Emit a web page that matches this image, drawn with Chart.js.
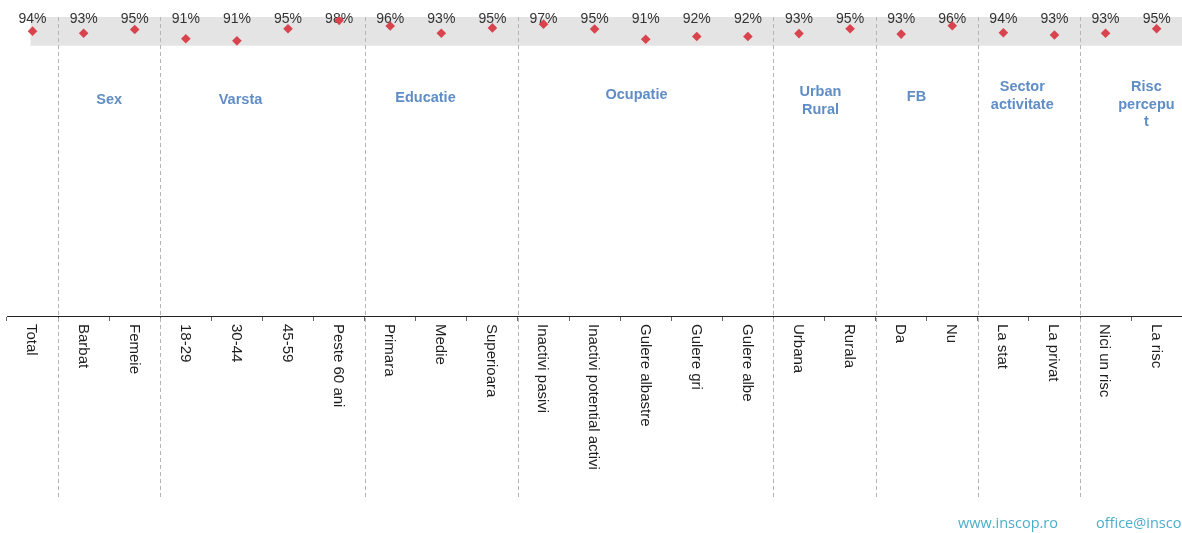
<!DOCTYPE html>
<html>
<head>
<meta charset="utf-8">
<script src="https://cdn.jsdelivr.net/npm/chart.js@4.4.1/dist/chart.umd.min.js"></script>
<style>
html,body{margin:0;padding:0;background:#fff;overflow:hidden;}
#wrap{width:1182px;height:533px;position:relative;overflow:hidden;}
</style>
</head>
<body>
<div id="wrap"><canvas id="c" width="1187" height="533"></canvas></div>
<script>
const categories = ["Total","Barbat","Femeie","18-29","30-44","45-59","Peste 60 ani","Primara","Medie","Superioara","Inactivi pasivi","Inactivi potential activi","Gulere albastre","Gulere gri","Gulere albe","Urbana","Rurala","Da","Nu","La stat","La privat","Nici un risc","La risc"];
const values = [94.2,93.4,94.8,91.4,90.6,95.1,98.2,96.1,93.4,95.4,96.8,95.0,91.2,92.2,92.2,93.3,95.1,93.1,96.2,93.6,92.8,93.4,95.1];
const groupNames = [["Sex"],["Varsta"],["Educatie"],["Ocupatie"],["Urban","Rural"],["FB"],["Sector","activitate"],["Risc","percepu","t"]];
const groupLastIndex = [2,6,9,14,16,18,20,22];
const groupLabelAnchor = [1.5,4.07,7.69,11.82,15.42,17.3,19.37,21.8];
const separatorsAfter = [0,2,6,9,14,16,18,20];
const footerTexts = ["www.inscop.ro","office@inscop"];

const groupTopY = [100,100,98,95,92,97,87,87];

const decor = {
  id:'decor',
  beforeDatasetsDraw(chart){
    const ctx = chart.ctx, xs = chart.scales.x, ys = chart.scales.y, ca = chart.chartArea;
    const step = xs.getPixelForValue(1) - xs.getPixelForValue(0);
    ctx.save();
    // grey band
    ctx.fillStyle = '#e4e4e4';
    const bx = xs.getPixelForValue(0) - 2;
    const yTop = ys.getPixelForValue(99.44), yBot = ys.getPixelForValue(88.8);
    ctx.fillRect(bx, yTop, 1182 - bx, yBot - yTop);
    // separators
    ctx.strokeStyle = '#b5b5b5';
    ctx.lineWidth = 1;
    ctx.setLineDash([4,3]);
    separatorsAfter.forEach(i=>{
      const x = Math.round(xs.getPixelForValue(i) + step/2) + 0.5;
      ctx.beginPath(); ctx.moveTo(x, yTop); ctx.lineTo(x, 497); ctx.stroke();
    });
    ctx.setLineDash([]);
    // value labels
    ctx.fillStyle = '#333';
    ctx.font = '14px "Liberation Sans", Arial, sans-serif';
    ctx.textAlign = 'center'; ctx.textBaseline = 'middle';
    values.forEach((v,i)=>{
      ctx.fillText(Math.round(v) + '%', xs.getPixelForValue(i), 19);
    });
    // group labels
    ctx.fillStyle = '#5f8dc6';
    ctx.font = 'bold 14.5px "Liberation Sans", Arial, sans-serif';
    groupNames.forEach((lines,g)=>{
      const x = xs.getPixelForValue(0) + groupLabelAnchor[g]*step;
      lines.forEach((t,k)=>{ ctx.fillText(t, x, groupTopY[g] + k*17.5); });
    });
    // category labels rotated clockwise
    ctx.fillStyle = '#1e1e1e';
    ctx.font = '15px "Liberation Sans", Arial, sans-serif';
    ctx.textAlign = 'left';
    categories.forEach((c,i)=>{
      ctx.save();
      ctx.translate(xs.getPixelForValue(i) - 1, 324);
      ctx.rotate(Math.PI/2);
      ctx.fillText(c, 0, 0);
      ctx.restore();
    });
    // footer
    ctx.fillStyle = '#4aaec8';
    ctx.font = '14.5px "Open Sans", sans-serif';
    ctx.fillText(footerTexts[0], 958, 524);
    ctx.fillText(footerTexts[1], 1096, 524);
    ctx.restore();
  }
};

new Chart(document.getElementById('c'), {
  type:'line',
  data:{labels:categories, datasets:[{data:values, showLine:false, pointStyle:'rectRot', pointRadius:4.8, pointBackgroundColor:'#d9434e', pointBorderColor:'#d9434e', pointBorderWidth:0}]},
  options:{
    responsive:false, animation:false, devicePixelRatio:1,
    layout:{padding:{left:7,right:0,top:17,bottom:212}},
    plugins:{legend:{display:false}, tooltip:{enabled:false}},
    scales:{
      x:{offset:true, grid:{display:true, drawOnChartArea:false, tickLength:5, color:'#666', offset:true}, border:{color:'#222', width:1}, ticks:{display:false}},
      y:{display:false, min:-11.3, max:99.44}
    }
  },
  plugins:[decor]
});
</script>
</body>
</html>
